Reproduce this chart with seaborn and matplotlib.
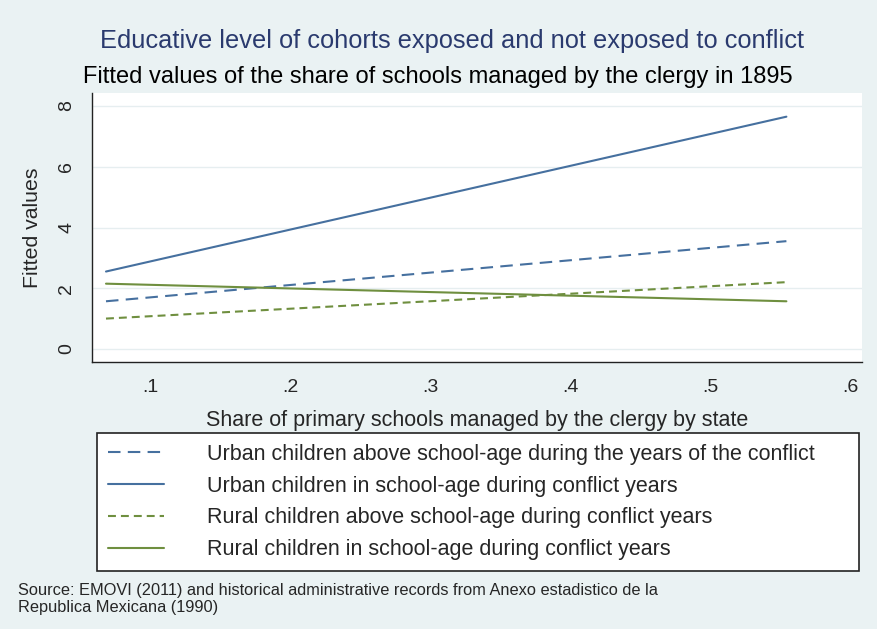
import numpy as np
import pandas as pd
import seaborn as sns
import matplotlib
matplotlib.use("Agg")
import matplotlib.pyplot as plt

# fitted values (endpoints of each fitted line)
share = [0.068, 0.554]
urban_above = [1.57, 3.55]
urban_school = [2.55, 7.65]
rural_above = [1.0, 2.2]
rural_school = [2.15, 1.57]

labels = ["Urban children above school-age during the years of the conflict",
          "Urban children in school-age during conflict years",
          "Rural children above school-age during conflict years",
          "Rural children in school-age during conflict years"]
series = [urban_above, urban_school, rural_above, rural_school]

xticks = [0.1, 0.2, 0.3, 0.4, 0.5, 0.6]
xticklabels = [".1", ".2", ".3", ".4", ".5", ".6"]
yticks = [0, 2, 4, 6, 8]

df = pd.DataFrame({
    "x": share * 4,
    "y": sum(series, []),
    "group": np.repeat(labels, 2),
})

bg = "#eaf2f3"
blue = "#46709f"
green = "#6f8f3f"

sns.set_style("white")
plt.rcParams["font.family"] = ["Liberation Sans", "DejaVu Sans"]

fig = plt.figure(figsize=(8.78, 6.29), dpi=100, facecolor=bg)
ax = fig.add_axes([92/878, 1-362/629, 770/878, 269/629])

palette = dict(zip(labels, [blue, blue, green, green]))
dashes = dict(zip(labels, [(6, 3.5), "", (3.8, 2.4), ""]))
sns.lineplot(data=df, x="x", y="y", hue="group", style="group",
             palette=palette, dashes=dashes, linewidth=1.5, ax=ax, legend=True)

ax.set_xlim(0.058, 0.608)
ax.set_ylim(-0.43, 8.43)
ax.set_xticks(xticks)
ax.set_xticklabels(xticklabels)
ax.set_yticks(yticks)
ax.set_yticklabels([str(t) for t in yticks], rotation=90, va="center")
ax.tick_params(axis="both", length=6, width=1, color="#222222", labelsize=14, pad=6)
ax.yaxis.grid(True, color="#e6eef0", linewidth=1)
for s in ["top", "right"]:
    ax.spines[s].set_visible(False)
for s in ["left", "bottom"]:
    ax.spines[s].set_color("#222222")
    ax.spines[s].set_linewidth(1)
ax.set_xlabel("Share of primary schools managed by the clergy by state", fontsize=15.5, labelpad=10)
ax.set_ylabel("Fitted values", fontsize=15.3, labelpad=12)

handles, labs = ax.get_legend_handles_labels()
ax.get_legend().remove()
for h in handles:
    h.set_linewidth(1.5)
leg = fig.legend(handles, labs, loc="upper left",
                 bbox_to_anchor=(97/878, 1-570/629, 762/878, 137/629),
                 mode="expand", fontsize=15.5, frameon=True, fancybox=False,
                 edgecolor="#222222", handlelength=2.6, labelspacing=0.5,
                 borderpad=0.5, handletextpad=2.0, borderaxespad=0)
leg.get_frame().set_linewidth(1.2)
leg.get_frame().set_facecolor("white")
leg.get_frame().set_alpha(1)

fig.text(452/878, 1-41/629, "Educative level of cohorts exposed and not exposed to conflict",
         ha="center", va="center", fontsize=18.3, color="#2a3a6e")
fig.text(83/878, 1-77/629, "Fitted values of the share of schools managed by the clergy in 1895",
         ha="left", va="center", fontsize=17, color="black")
fig.text(18/878, 1-599/629,
         "Source: EMOVI (2011) and historical administrative records from Anexo estadistico de la\nRepublica Mexicana (1990)",
         ha="left", va="center", fontsize=11.8, linespacing=1.15)

fig.savefig("out.png", dpi=100, facecolor=bg)
